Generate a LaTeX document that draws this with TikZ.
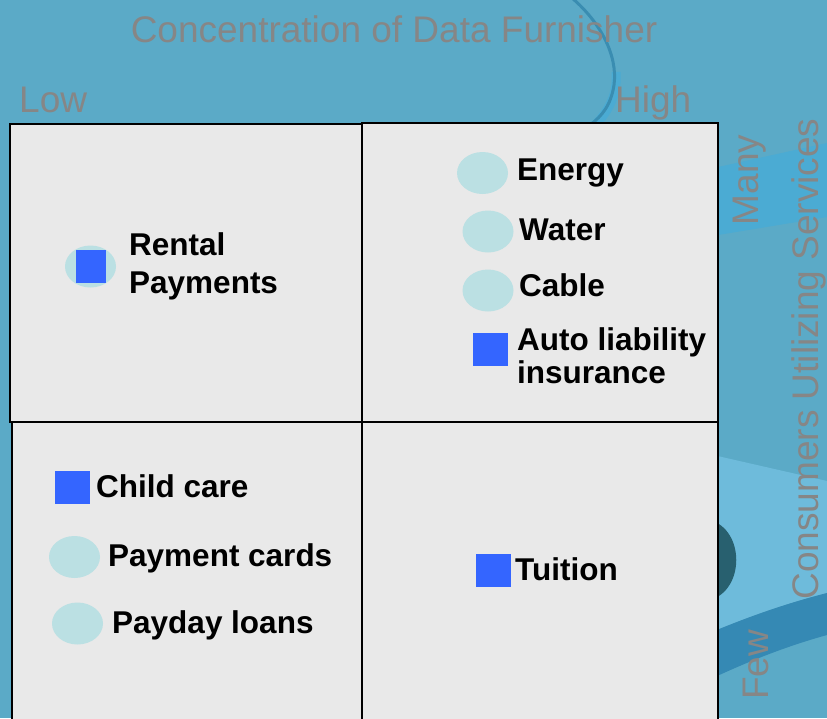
\documentclass[tikz,border=0pt]{standalone}
\usepackage{fontspec}
\setmainfont{Liberation Sans}
\usetikzlibrary{shapes.geometric}

\definecolor{slide}{HTML}{5BAAC7}
\definecolor{bandlight}{HTML}{4BABD3}
\definecolor{bandpale}{HTML}{6EBBDB}
\definecolor{banddark}{HTML}{3589B4}
\definecolor{blobdark}{HTML}{28606F}
\definecolor{arcblue}{HTML}{3A8DB1}
\definecolor{cellgray}{HTML}{E9E9E9}
\definecolor{dotcyan}{HTML}{BBE0E3}
\definecolor{sqblue}{HTML}{3465FF}
\definecolor{axisgray}{HTML}{868686}

\begin{document}
\begin{tikzpicture}[x=1pt,y=-1pt,
  cell/.style={draw=black,line width=1.5pt,fill=cellgray},
  dot/.style={ellipse,fill=dotcyan,minimum width=51pt,minimum height=42pt,inner sep=0},
  sq/.style={fill=sqblue,minimum width=35pt,minimum height=33pt,inner sep=0},
  item/.style={anchor=base west,inner sep=0,align=left,font=\fontsize{31.5}{38}\selectfont\bfseries},
  axis/.style={text=axisgray,inner sep=0,font=\fontsize{37}{44}\selectfont}]
\useasboundingbox (0,0) rectangle (827,718);
\clip (0,0) rectangle (827,718);

% slide background
\fill[slide] (0,0) rectangle (827,718);
\fill[bandlight] (700,171) -- (827,143) -- (827,217) -- (700,238) -- cycle;
\fill[bandpale] (700,452) -- (827,481) -- (827,593) .. controls (780,605) and (740,620) .. (700,637) -- cycle;
\fill[banddark] (700,637) .. controls (740,620) and (780,605) .. (827,593)
                -- (827,635) .. controls (780,648) and (740,665) .. (700,684) -- cycle;
\fill[blobdark] (710,520) .. controls (745,530) and (745,590) .. (710,600) -- cycle;
\draw[bandlight,line width=9pt] (616,72) .. controls (618,95) and (608,112) .. (594,126);
\draw[arcblue,line width=3pt] (572,-2) .. controls (600,22) and (618,55) .. (614,85)
                             .. controls (611,105) and (602,116) .. (590,125);

% axis labels
\node[axis,anchor=base] (title) at (394,42) {Concentration of Data Furnisher};
\node[axis,anchor=base west] (low) at (19,112) {Low};
\node[axis,anchor=base west] (high) at (615,112) {High};
\node[axis,anchor=base,rotate=90] (many) at (758,180) {Many};
\node[axis,anchor=base,rotate=90] (few) at (768,665) {Few};
\node[axis,anchor=base,rotate=90] (consumers) at (818,359) {Consumers Utilizing Services};

% quadrants
\draw[cell] (12,422) rectangle (362,730);
\draw[cell] (362,422) rectangle (718,730);
\draw[cell] (10,124) rectangle (362,422);
\draw[cell] (362,123) rectangle (718,422);

% low / many
\node[dot] (rental-dot) at (90.5,266.5) {};
\node[sq,minimum width=30pt] (rental-sq) at (91,266.5) {};
\node[item] (rental) at (129,293) {Rental\\Payments};

% high / many
\node[dot] (energy-dot) at (482.5,173) {};
\node[item] (energy) at (517,180) {Energy};
\node[dot] (water-dot) at (488,231.5) {};
\node[item] (water) at (519,240) {Water};
\node[dot] (cable-dot) at (488,290.5) {};
\node[item] (cable) at (519,296) {Cable};
\node[sq] (auto-sq) at (490.5,349.5) {};
\node[item,font=\fontsize{31.5}{33}\selectfont\bfseries] (auto) at (517,383) {Auto liability\\insurance};

% low / few
\node[sq] (child-sq) at (72.5,487.5) {};
\node[item] (child) at (96,497) {Child care};
\node[dot] (cards-dot) at (74.5,557) {};
\node[item] (cards) at (108,566) {Payment cards};
\node[dot] (payday-dot) at (77.5,623.5) {};
\node[item] (payday) at (112,633) {Payday loans};

% high / few
\node[sq] (tuition-sq) at (493.5,570.5) {};
\node[item] (tuition) at (515,580) {Tuition};
\end{tikzpicture}
\end{document}
